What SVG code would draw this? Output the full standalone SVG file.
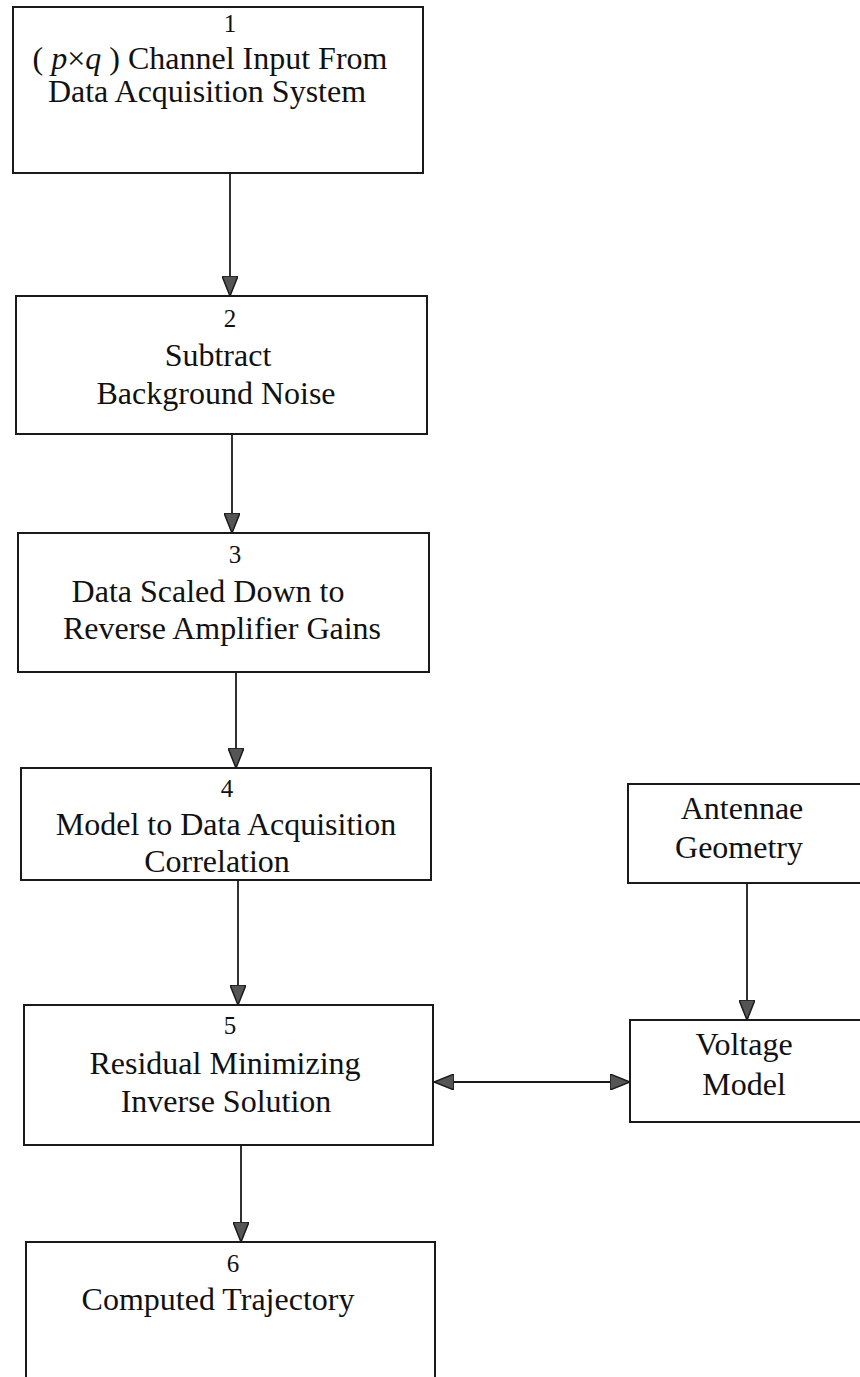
<svg xmlns="http://www.w3.org/2000/svg" width="860" height="1377" viewBox="0 0 860 1377">
<style>
.box{fill:#fff;stroke:#1a1a1a;stroke-width:2}
.t{font-family:"Liberation Serif","Times New Roman",serif;font-size:32px;fill:#111;text-anchor:middle}
.n{font-family:"Liberation Serif","Times New Roman",serif;font-size:25px;fill:#111;text-anchor:middle}
.c{stroke:#1a1a1a;stroke-width:1.8;fill:none}
</style>
<defs>
<marker id="ah" viewBox="0 0 20 16" refX="20" refY="8" markerWidth="20" markerHeight="16" markerUnits="userSpaceOnUse" orient="auto-start-reverse">
<path d="M0,0 L20,8 L0,16 z" fill="#555" stroke="#1a1a1a" stroke-width="1.5"/>
</marker>
</defs>
<rect width="860" height="1377" fill="#fff"/>
<g id="connectors">
<line class="c" x1="230" y1="173" x2="230" y2="296" marker-end="url(#ah)"/>
<line class="c" x1="232" y1="434" x2="232" y2="533" marker-end="url(#ah)"/>
<line class="c" x1="236" y1="672" x2="236" y2="768" marker-end="url(#ah)"/>
<line class="c" x1="238" y1="880" x2="238" y2="1005" marker-end="url(#ah)"/>
<line class="c" x1="241" y1="1145" x2="241" y2="1242" marker-end="url(#ah)"/>
<line class="c" x1="747" y1="883" x2="747" y2="1020" marker-end="url(#ah)"/>
<line class="c" x1="434" y1="1082" x2="630" y2="1082" marker-start="url(#ah)" marker-end="url(#ah)"/>
</g>
<g id="node1">
<rect class="box" x="13" y="7" width="410" height="166"/>
<text class="n" x="230" y="32">1</text>
<text class="t" x="210" y="69">( <tspan font-style="italic">p</tspan>×<tspan font-style="italic">q</tspan> ) Channel Input From</text>
<text class="t" x="207" y="102">Data Acquisition System</text>
</g>
<g id="node2">
<rect class="box" x="16" y="296" width="411" height="138"/>
<text class="n" x="230" y="327">2</text>
<text class="t" x="218" y="366">Subtract</text>
<text class="t" x="216" y="404">Background Noise</text>
</g>
<g id="node3">
<rect class="box" x="18" y="533" width="411" height="139"/>
<text class="n" x="235" y="563">3</text>
<text class="t" x="208" y="602">Data Scaled Down to</text>
<text class="t" x="222" y="639">Reverse Amplifier Gains</text>
</g>
<g id="node4">
<rect class="box" x="21" y="768" width="410" height="112"/>
<text class="n" x="227" y="797">4</text>
<text class="t" x="226" y="835">Model to Data Acquisition</text>
<text class="t" x="217" y="872">Correlation</text>
</g>
<g id="node5">
<rect class="box" x="24" y="1005" width="409" height="140"/>
<text class="n" x="230" y="1034">5</text>
<text class="t" x="225" y="1074">Residual Minimizing</text>
<text class="t" x="226" y="1112">Inverse Solution</text>
</g>
<g id="node6">
<rect class="box" x="26" y="1242" width="409" height="150"/>
<text class="n" x="233" y="1272">6</text>
<text class="t" x="218" y="1310">Computed Trajectory</text>
</g>
<g id="antennae">
<rect class="box" x="628" y="784" width="250" height="99"/>
<text class="t" x="742" y="819">Antennae</text>
<text class="t" x="739" y="858">Geometry</text>
</g>
<g id="voltage">
<rect class="box" x="630" y="1020" width="250" height="102"/>
<text class="t" x="744" y="1055">Voltage</text>
<text class="t" x="744" y="1095">Model</text>
</g>
</svg>
